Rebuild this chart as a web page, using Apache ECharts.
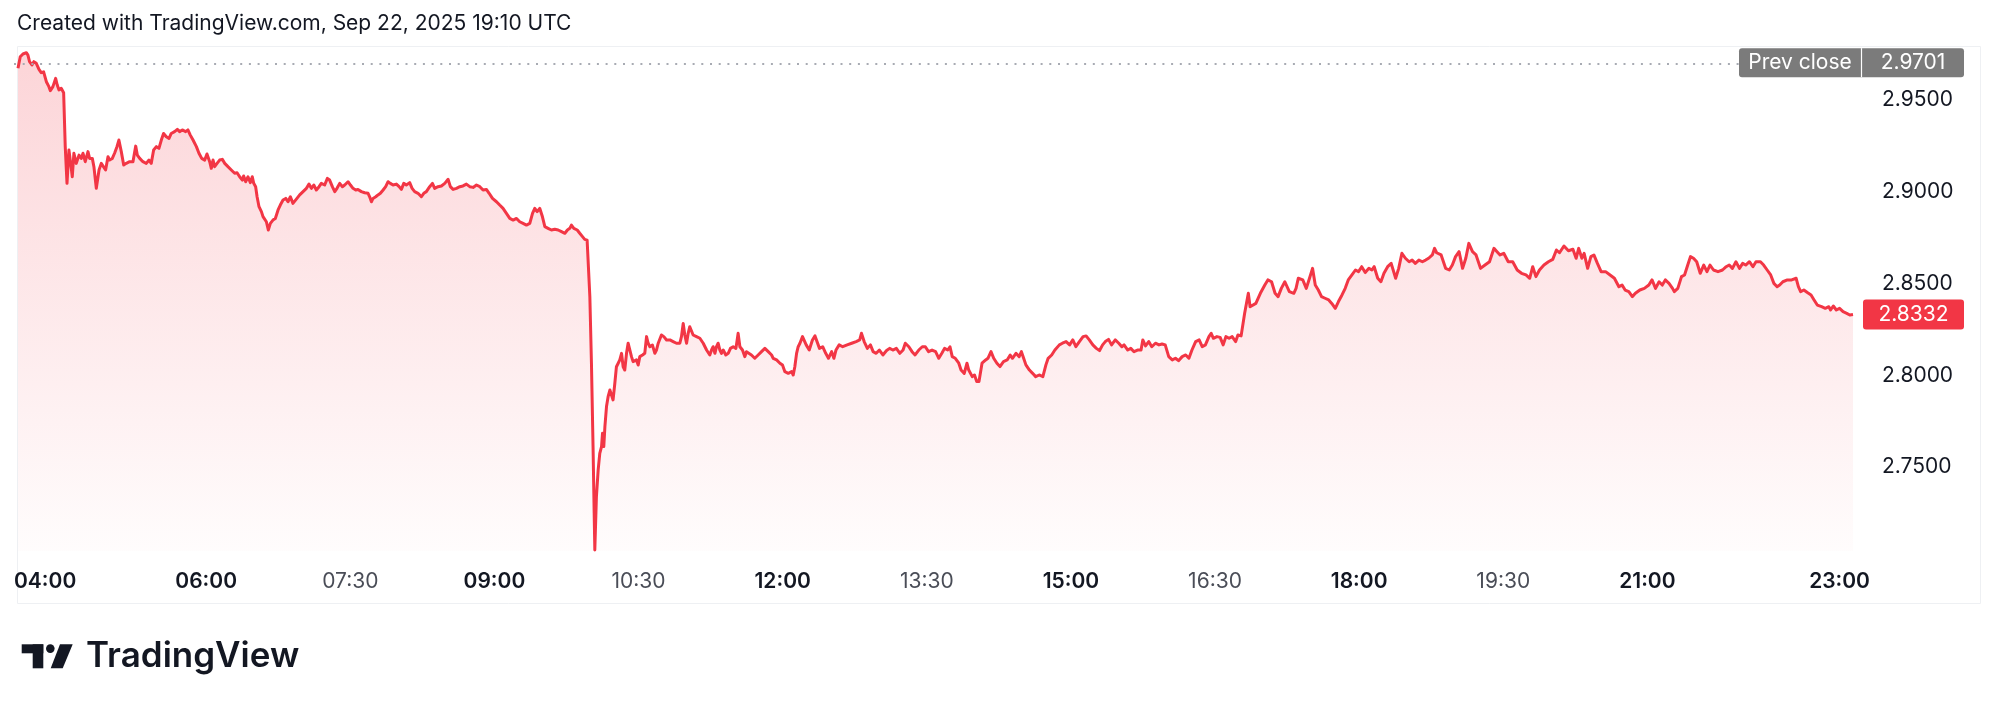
<!DOCTYPE html>
<html><head><meta charset="utf-8">
<script src="https://cdn.jsdelivr.net/npm/echarts@6/dist/echarts.min.js"></script>
<style>html,body{margin:0;padding:0;background:#fff}#c{width:1999px;height:710px}</style>
</head><body><div id="c"></div>
<script>
const titleText = 'Created with TradingView.com, Sep 22, 2025 19:10 UTC';
const brandText = 'TradingView';

// [minutes since 00:00, price]
const seg1 = [[242.5,2.9673],[243.9,2.9736],[245.6,2.9751],[247.7,2.9758],[248.7,2.9745],[249.7,2.9709],[251.2,2.9691],[252.4,2.9709],[253.9,2.9700],[255.6,2.9667],
[257.0,2.9649],[258.5,2.9654],[260.2,2.9600],[261.8,2.9573],[262.7,2.9551],[264.3,2.9573],[266.0,2.9618],[267.0,2.9582],[268.1,2.9555],[269.5,2.9564],
[271.0,2.9540],[272.0,2.9246],[273.1,2.9046],[274.3,2.9228],[275.4,2.9155],[276.4,2.9082],[277.4,2.9210],[278.9,2.9155],[280.6,2.9200],[282.0,2.9182],
[283.1,2.9210],[284.5,2.9164],[286.2,2.9219],[287.2,2.9182],[288.9,2.9182],[289.9,2.9137],[291.4,2.9019],[293.1,2.9119],[294.5,2.9155],[295.6,2.9164],
[297.2,2.9119],[298.7,2.9191],[299.7,2.9173],[301.4,2.9182],[302.8,2.9210],[304.3,2.9246],[305.5,2.9282],[307.0,2.9219],[308.5,2.9146],[310.1,2.9155],
[312.2,2.9164],[314.3,2.9164],[316.0,2.9249],[317.0,2.9200],[318.5,2.9182],[320.5,2.9164],[322.6,2.9155],[324.3,2.9173],[325.7,2.9155],[327.2,2.9228],
[328.9,2.9246],[330.5,2.9237],[332.0,2.9282],[333.4,2.9318],[335.1,2.9300],[336.8,2.9291],[338.2,2.9318],[340.3,2.9328],[342.0,2.9340],[343.4,2.9328],
[345.1,2.9337],[347.2,2.9328],[348.6,2.9337],[350.1,2.9309],[351.8,2.9282],[353.9,2.9246],[355.5,2.9210],[357.2,2.9182],[359.1,2.9173],[360.5,2.9206],
[362.2,2.9164],[363.2,2.9128],[364.3,2.9173],[365.3,2.9137],[366.8,2.9155],[368.4,2.9173],[370.1,2.9177],[371.6,2.9155],[373.6,2.9137],[375.7,2.9119],
[377.8,2.9101],[379.3,2.9104],[380.9,2.9082],[382.6,2.9064],[383.4,2.9086],[384.7,2.9055],[386.1,2.9082],[387.6,2.9050],[388.8,2.9082],[389.7,2.9046],
[390.9,2.9028],[391.8,2.8973],[393.0,2.8919],[394.5,2.8892],[395.5,2.8865],[396.5,2.8865],[397.6,2.8837],[398.8,2.8792],[400.1,2.8828],[401.7,2.8846],
[403.2,2.8855],[404.9,2.8901],[406.3,2.8928],[408.0,2.8955],[409.7,2.8964],[411.1,2.8946],[412.6,2.8973],[414.2,2.8937],[415.3,2.8937],[416.7,2.8964],
[418.4,2.8983],[420.5,2.9001],[422.6,2.9019],[424.2,2.9042],[425.7,2.9019],[427.2,2.9037],[428.8,2.9010],[430.5,2.9028],[431.9,2.9046],[434.0,2.9037],
[435.7,2.9073],[437.1,2.9064],[438.8,2.9028],[440.3,2.9001],[441.7,2.9019],[443.4,2.9046],[445.1,2.9028],[446.5,2.9037],[448.6,2.9055],[450.1,2.9037],
[451.7,2.9019],[453.4,2.9010],[454.8,2.9013],[456.9,2.9001],[459.0,2.8995],[461.1,2.8992],[462.1,2.8973],[463.2,2.8946],[464.2,2.8964],[465.9,2.8973],
[467.3,2.8983],[468.8,2.8992],[470.5,2.9010],[472.1,2.9028],[473.6,2.9055],[475.0,2.9046],[476.7,2.9037],[478.8,2.9042],[480.5,2.9028],[481.9,2.9013],
[483.4,2.9046],[485.0,2.9037],[487.1,2.9050],[488.6,2.9019],[490.2,2.9001],[492.3,2.8992],[494.4,2.8973],[495.9,2.8992],[497.5,2.9001],[499.6,2.9028],
[501.3,2.9046],[502.7,2.9019],[504.8,2.9028],[506.9,2.9032],[509.0,2.9046],[511.1,2.9068],[512.5,2.9028],[514.2,2.9013],[516.3,2.9019],[518.4,2.9028],
[520.4,2.9032],[522.5,2.9042],[524.6,2.9028],[526.7,2.9024],[528.8,2.9037],[530.9,2.9028],[532.9,2.9010],[535.0,2.9013],[536.7,2.8992],[538.8,2.8964],
[541.3,2.8946],[543.3,2.8928]];

const seg2 = [[545.4,2.8910],[547.5,2.8883],[549.6,2.8855],[551.7,2.8846],[553.8,2.8855],[555.8,2.8837],[557.9,2.8828],[560.0,2.8819],[562.1,2.8828],[563.8,2.8883],
[565.2,2.8910],[566.7,2.8892],[568.3,2.8910],[570.0,2.8864],[571.5,2.8810],[573.5,2.8801],[575.6,2.8792],[577.7,2.8796],[579.8,2.8792],[581.9,2.8783],
[584.0,2.8774],[585.6,2.8792],[587.1,2.8801],[588.1,2.8819],[589.6,2.8801],[591.7,2.8792],[593.3,2.8774],[595.0,2.8756],[596.4,2.8741],[597.9,2.8737],
[598.5,2.8728],[599.6,2.8429],[600.6,2.8066],[601.6,2.7612],[602.3,2.7249],[602.7,2.7049],[603.7,2.7339],[604.8,2.7485],[605.8,2.7575],[606.9,2.7612],
[607.5,2.7684],[608.3,2.7612],[609.0,2.7721],[610.0,2.7830],[611.0,2.7884],[612.1,2.7920],[613.1,2.7911],[614.1,2.7866],[615.2,2.7957],[616.2,2.8047],
[617.3,2.8066],[618.3,2.8084],[619.4,2.8120],[620.4,2.8047],[621.4,2.8029],[622.5,2.8120],[623.5,2.8175],[624.6,2.8184],[625.6,2.8102],[626.6,2.8075],
[628.7,2.8084],[629.8,2.8056],[630.8,2.8102],[632.5,2.8111],[633.9,2.8120],[635.0,2.8211],[636.0,2.8175],[637.1,2.8156],[638.7,2.8165],[640.2,2.8120],
[641.2,2.8138],[642.3,2.8175],[644.3,2.8220],[645.8,2.8211],[647.5,2.8193],[649.6,2.8193],[651.6,2.8184],[653.7,2.8175],[655.8,2.8175],[656.8,2.8211],
[657.9,2.8283],[658.9,2.8220],[660.0,2.8175],[661.0,2.8229],[662.0,2.8265],[663.1,2.8274],[664.1,2.8220],[666.2,2.8211],[668.3,2.8202],[670.4,2.8175],
[672.5,2.8138],[674.5,2.8111],[675.6,2.8138],[676.6,2.8156],[677.7,2.8120],[678.7,2.8156],[679.7,2.8175],[680.8,2.8138],[681.8,2.8120],[682.9,2.8138],
[684.5,2.8111],[686.0,2.8120],[687.4,2.8147],[689.1,2.8156],[690.8,2.8147],[691.6,2.8193],[692.2,2.8229],[693.3,2.8156],[694.9,2.8138],[696.4,2.8102],
[697.4,2.8129],[698.5,2.8120],[700.5,2.8111],[702.6,2.8093],[704.7,2.8111],[706.8,2.8129],[708.9,2.8147],[711.0,2.8129],[713.1,2.8111],[714.1,2.8093],
[715.1,2.8102],[716.2,2.8084],[718.3,2.8066],[719.9,2.8056],[721.4,2.8020],[723.5,2.8011],[725.6,2.8020],[726.6,2.8002],[727.6,2.8047],[728.7,2.8120],
[729.7,2.8156],[730.8,2.8175]];

const seg3 = [[732.4,2.8211],[734.7,2.8166],[736.6,2.8138],[738.6,2.8193],[740.2,2.8215],[741.4,2.8211],[743.0,2.8147],[745.0,2.8156],[746.9,2.8120],[748.6,2.8093],
[750.6,2.8129],[752.0,2.8093],[753.3,2.8138],[755.3,2.8166],[757.5,2.8156],[760.3,2.8166],[763.1,2.8175],[765.9,2.8184],[768.1,2.8193],[769.2,2.8229],
[770.9,2.8184],[772.9,2.8147],[774.8,2.8166],[776.5,2.8129],[778.4,2.8120],[780.4,2.8138],[782.6,2.8111],[784.9,2.8135],[786.8,2.8147],[788.8,2.8138],
[791.0,2.8147],[793.2,2.8120],[795.2,2.8138],[796.6,2.8175],[798.8,2.8156],[800.8,2.8129],[802.7,2.8111],[805.0,2.8138],[807.2,2.8156],[809.1,2.8156],
[811.1,2.8129],[813.3,2.8138],[815.5,2.8129],[817.5,2.8093],[819.4,2.8120],[821.1,2.8147],[823.1,2.8138],[824.5,2.8156],[825.9,2.8102],[827.8,2.8093],
[830.0,2.8066],[831.4,2.8029],[833.4,2.8011],[835.1,2.8066],[836.2,2.8029],[838.4,2.7993],[839.8,2.8002],[841.2,2.7966],[842.6,2.7966],[844.5,2.8066],
[846.8,2.8084],[848.2,2.8093],[850.1,2.8129],[851.8,2.8093],[853.8,2.8066],[855.7,2.8048],[857.9,2.8075],[860.2,2.8084],[862.1,2.8111],[863.5,2.8093],
[865.7,2.8120],[867.7,2.8102],[869.1,2.8129],[870.5,2.8093],[871.9,2.8057],[874.1,2.8029],[876.1,2.8011],[878.0,2.7993],[880.2,2.8002],[882.5,2.7993],
[884.4,2.8057],[885.8,2.8093],[888.0,2.8111],[890.0,2.8138],[892.8,2.8166],[894.7,2.8175],[897.0,2.8184],[899.2,2.8166],[901.2,2.8193],[903.1,2.8156],
[905.3,2.8184],[907.6,2.8211],[909.5,2.8215],[911.5,2.8193],[913.7,2.8166],[915.9,2.8147],[917.9,2.8135],[919.8,2.8166],[921.5,2.8184],[923.5,2.8196],
[925.4,2.8166],[927.7,2.8193],[929.9,2.8175],[931.8,2.8156],[933.2,2.8166],[935.5,2.8138],[937.4,2.8147],[939.4,2.8129],[941.6,2.8138],[943.8,2.8138],
[944.9,2.8193],[946.6,2.8160],[948.6,2.8184],[950.5,2.8156],[952.8,2.8175],[955.0,2.8166],[956.9,2.8171],[958.9,2.8166],[961.1,2.8102],[963.3,2.8084],
[965.3,2.8093],[967.2,2.8080],[969.5,2.8102],[971.7,2.8111],[973.7,2.8093],[975.6,2.8138],[977.9,2.8184],[980.1,2.8193],[982.0,2.8156],[984.0,2.8166],
[986.2,2.8211],[987.6,2.8229],[989.0,2.8202],[991.2,2.8211],[993.2,2.8207],[995.1,2.8166],[996.8,2.8211],[998.8,2.8202],[1000.7,2.8211],[1002.9,2.8184],
[1004.3,2.8220],[1006.3,2.8215],[1008.5,2.8338],[1010.8,2.8447],[1011.9,2.8374]];

const seg4 = [[1015.5,2.8392],[1018.3,2.8447],[1021.1,2.8492],[1023.0,2.8520],[1025.3,2.8510],[1027.5,2.8447],[1029.4,2.8429],[1031.4,2.8474],[1033.6,2.8510],[1036.4,2.8456],
[1039.2,2.8447],[1040.6,2.8474],[1042.0,2.8529],[1044.8,2.8520],[1047.0,2.8474],[1049.0,2.8529],[1050.9,2.8583],[1052.6,2.8492],[1054.5,2.8465],[1056.5,2.8429],
[1058.7,2.8420],[1061.0,2.8411],[1062.9,2.8392],[1065.1,2.8365],[1067.1,2.8402],[1069.3,2.8438],[1071.3,2.8474],[1073.2,2.8520],[1075.5,2.8547],[1077.7,2.8574],
[1079.6,2.8565],[1081.6,2.8592],[1083.8,2.8560],[1086.1,2.8583],[1088.0,2.8574],[1089.4,2.8592],[1091.6,2.8529],[1093.6,2.8510],[1095.5,2.8556],[1097.8,2.8592],
[1100.0,2.8610],[1102.8,2.8529],[1104.7,2.8583],[1106.7,2.8665],[1108.9,2.8638],[1111.2,2.8619],[1113.1,2.8628],[1115.1,2.8610],[1117.3,2.8628],[1119.5,2.8619],
[1121.5,2.8628],[1123.4,2.8638],[1125.7,2.8656],[1127.1,2.8692],[1128.4,2.8668],[1131.2,2.8656],[1134.0,2.8583],[1136.3,2.8574],[1138.2,2.8601],[1140.2,2.8647],
[1142.4,2.8674],[1144.6,2.8583],[1146.6,2.8638],[1148.5,2.8719],[1150.8,2.8674],[1153.0,2.8656],[1155.8,2.8583],[1158.6,2.8601],[1161.4,2.8619],[1164.2,2.8692],
[1166.1,2.8674],[1168.0,2.8656],[1170.3,2.8665],[1173.1,2.8619],[1175.9,2.8619],[1178.7,2.8574],[1181.4,2.8556],[1184.2,2.8547],[1186.5,2.8529],[1188.4,2.8592],
[1190.4,2.8538],[1192.6,2.8574],[1195.4,2.8601],[1198.2,2.8619],[1200.9,2.8632],[1203.2,2.8683],[1205.1,2.8668],[1207.9,2.8705],[1210.7,2.8679],[1213.5,2.8687],
[1215.5,2.8638],[1217.1,2.8692],[1219.1,2.8638],[1220.5,2.8665],[1222.7,2.8583],[1224.7,2.8647],[1226.6,2.8656],[1228.8,2.8610],[1231.1,2.8565],[1233.9,2.8565],
[1236.7,2.8547],[1239.4,2.8529],[1242.2,2.8483],[1244.2,2.8492],[1246.1,2.8465],[1248.4,2.8456],[1250.6,2.8429],[1252.5,2.8447],[1255.3,2.8465],[1258.1,2.8474],
[1260.9,2.8492],[1262.9,2.8520],[1265.1,2.8474],[1267.3,2.8510],[1269.3,2.8492],[1271.2,2.8520],[1273.5,2.8501],[1275.7,2.8474],[1276.8,2.8456],[1279.0,2.8474],
[1281.3,2.8538],[1283.2,2.8547],[1285.2,2.8601],[1286.9,2.8647],[1288.8,2.8638],[1290.8,2.8619],[1293.0,2.8556],[1295.2,2.8601],[1297.2,2.8565],[1299.1,2.8601],
[1301.3,2.8574],[1304.1,2.8565],[1306.9,2.8574],[1309.2,2.8592],[1311.1,2.8601],[1313.1,2.8583],[1315.3,2.8619],[1317.5,2.8583],[1319.5,2.8610],[1321.4,2.8601],
[1323.7,2.8619],[1325.9,2.8592],[1327.8,2.8619],[1330.6,2.8619],[1332.6,2.8601],[1334.8,2.8574],[1337.0,2.8547],[1339.0,2.8501],[1341.0,2.8483],[1342.6,2.8492],
[1344.6,2.8510],[1347.4,2.8520],[1350.1,2.8520],[1352.9,2.8529],[1354.3,2.8483],[1355.7,2.8456],[1357.7,2.8465],[1359.9,2.8451],[1362.2,2.8438],[1364.1,2.8411],
[1366.1,2.8383],[1368.8,2.8374],[1371.1,2.8365],[1373.3,2.8374],[1374.4,2.8356],[1376.1,2.8378],[1378.0,2.8356],[1380.0,2.8365],[1382.2,2.8347],[1384.5,2.8338],
[1386.4,2.8329],[1388.4,2.8332]];

const prevClose = 2.9701;
const lastPrice = 2.8332;
const priceTicks = [2.75, 2.80, 2.85, 2.90, 2.95];
const timeTicks  = [240, 360, 450, 540, 630, 720, 810, 900, 990, 1080, 1170, 1260, 1380];
const timeLabels = ['04:00','06:00','07:30','09:00','10:30','12:00','13:30','15:00','16:30','18:00','19:30','21:00','23:00'];
const timeMajor  = [true, true, false, true, false, true, false, true, false, true, false, true, true];

const data = seg1.concat(seg2, seg3, seg4);
const FONT = 'Inter, "Noto Sans", sans-serif';
const chart = echarts.init(document.getElementById('c'), null, {renderer: 'canvas'});

chart.setOption({
  animation: false,
  backgroundColor: '#ffffff',
  grid: {left: 14, right: 146, top: 47, bottom: 159, containLabel: false},
  xAxis: {
    type: 'value', min: 240, max: 'dataMax',
    axisLine: {show: false}, axisTick: {show: false}, splitLine: {show: false},
    axisLabel: {
      customValues: timeTicks, margin: 20, alignMinLabel: 'left',
      formatter: function (v) {
        const i = timeTicks.indexOf(v);
        if (i < 0) return '';
        return (timeMajor[i] ? '{b|' : '{n|') + timeLabels[i] + '}';
      },
      rich: {
        b: {fontFamily: FONT, fontSize: 21, fontWeight: 600, color: '#131722'},
        n: {fontFamily: FONT, fontSize: 21, fontWeight: 400, color: '#4a4d57'}
      }
    }
  },
  yAxis: {
    type: 'value', position: 'right', min: 2.7043, max: 2.9789, scale: true,
    axisLine: {show: false}, axisTick: {show: false}, splitLine: {show: false},
    axisLabel: {
      customValues: priceTicks, margin: 29,
      formatter: function (v) { return v.toFixed(4); },
      fontFamily: FONT, fontSize: 21, color: '#131722'
    }
  },
  series: [{
    type: 'line', data: data, showSymbol: false, symbol: 'none',
    lineStyle: {color: '#F23645', width: 3, join: 'round'},
    areaStyle: {
      origin: 'start',
      color: new echarts.graphic.LinearGradient(0, 0, 0, 1, [
        {offset: 0, color: 'rgba(242,54,69,0.30)'},
        {offset: 0.5, color: 'rgba(242,54,69,0.16)'},
        {offset: 1, color: 'rgba(242,54,69,0.02)'}
      ])
    },
    markLine: {
      silent: true, symbol: 'none', label: {show: false},
      lineStyle: {color: '#A8ABB3', type: [2, 6.7], width: 1.8},
      data: [{yAxis: prevClose}]
    }
  }]
});

const yPrev = chart.convertToPixel({yAxisIndex: 0}, prevClose);
const yLast = chart.convertToPixel({yAxisIndex: 0}, lastPrice);
const labelFont = '21px ' + FONT;

chart.setOption({
  graphic: [
    {type: 'rect', z: -10, silent: true, shape: {x: 17.5, y: 46.5, width: 1963, height: 557},
      style: {fill: null, stroke: '#EEF0F3', lineWidth: 1}},
    {type: 'text', left: 17, top: 13, silent: true,
      style: {text: titleText, font: '21px ' + FONT, fill: '#131722'}},
    // prev close tag
    {type: 'rect', z: 100, silent: true, shape: {x: 1739, y: yPrev - 15, width: 225, height: 29, r: 3},
      style: {fill: '#7B7B7B'}},
    {type: 'line', z: 101, silent: true, shape: {x1: 1861.5, y1: yPrev - 15, x2: 1861.5, y2: yPrev + 14},
      style: {stroke: '#ffffff', lineWidth: 1.2}},
    {type: 'text', z: 102, silent: true, x: 1800, y: yPrev,
      style: {text: 'Prev close', font: labelFont, fill: '#ffffff', align: 'center', verticalAlign: 'middle'}},
    {type: 'text', z: 102, silent: true, x: 1913, y: yPrev,
      style: {text: prevClose.toFixed(4), font: labelFont, fill: '#ffffff', align: 'center', verticalAlign: 'middle'}},
    // last price tag
    {type: 'rect', z: 100, silent: true, shape: {x: 1863, y: yLast - 15, width: 101, height: 30, r: 3},
      style: {fill: '#F23645'}},
    {type: 'text', z: 102, silent: true, x: 1913.5, y: yLast,
      style: {text: lastPrice.toFixed(4), font: labelFont, fill: '#ffffff', align: 'center', verticalAlign: 'middle'}},
    // TradingView logo
    {type: 'rect', silent: true, shape: {x: 21.7, y: 644.3, width: 21.6, height: 9}, style: {fill: '#131722'}},
    {type: 'rect', silent: true, shape: {x: 32.7, y: 644.3, width: 10.6, height: 24}, style: {fill: '#131722'}},
    {type: 'circle', silent: true, shape: {cx: 50.3, cy: 648.6, r: 4.3}, style: {fill: '#131722'}},
    {type: 'polygon', silent: true, shape: {points: [[60, 644.3], [72.7, 644.3], [62.7, 668.3], [50.7, 668.3]]}, style: {fill: '#131722'}},
    {type: 'text', silent: true, x: 86, y: 656.5,
      style: {text: brandText, font: '600 35px ' + FONT, fill: '#131722', verticalAlign: 'middle'}}
  ]
});
</script>
</body></html>
